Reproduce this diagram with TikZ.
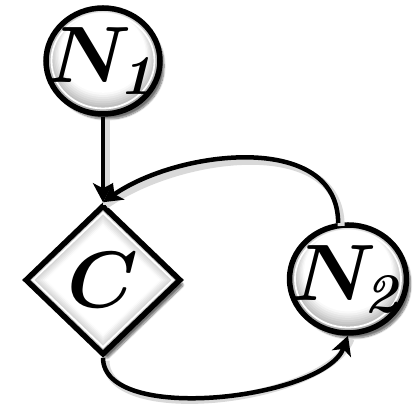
\RequirePackage{fix-cm}
\documentclass[tikz,border=0pt]{standalone}
\usepackage{amsmath}
\usetikzlibrary{shapes.geometric,arrows.meta,shadows.blur}
\begin{document}
\begin{tikzpicture}[x=1pt,y=1pt,
  bignum/.style={font=\fontsize{80}{90}\selectfont\boldmath},
  myshadow/.style={blur shadow={shadow xshift=4pt, shadow yshift=-5pt, shadow blur steps=10, shadow blur extra rounding=2pt, shadow opacity=55}},
  ballnode/.style n args={2}{ellipse, draw=black, line width=5.5pt, fill=white, inner sep=0pt, myshadow,
    minimum width={2*#1}, minimum height={2*#2},
    path picture={
      \foreach \s in {1.00,0.975,...,0.70} {
        \pgfmathsetmacro\g{max(0,36*(\s-0.76)/0.24)}
        \fill[black!\g] ([yshift={(1-\s)*0.6*#2}]path picture bounding box.center) ellipse ({\s*#1} and {\s*#2});
      }
      \draw[white,line width=1.8pt] (path picture bounding box.center) ellipse ({#1-5.5} and {#2-5.5});}},
  dianode/.style n args={2}{diamond, draw=black, line width=5.5pt, fill=white, inner sep=0pt, myshadow,
    minimum width={2*#1}, minimum height={2*#2},
    path picture={
      \foreach \s in {1.00,0.975,...,0.70} {
        \pgfmathsetmacro\g{max(0,30*(\s-0.74)/0.26)}
        \fill[black!\g] (path picture bounding box.center) ++(0,{\s*#2}) -- ++({-\s*#1},{-\s*#2}) -- ++({\s*#1},{-\s*#2}) -- ++({\s*#1},{\s*#2}) -- cycle;
      }
      \draw[white,line width=1.8pt] (path picture bounding box.center) ++(0,{#2-8}) -- ++({-(#1-8)},{-(#2-8)}) -- ++({#1-8},{-(#2-8)}) -- ++({#1-8},{#2-8}) -- cycle;}},
  conn/.style={line width=4.5pt, -{Stealth[length=19pt,width=20pt,inset=5pt]},
    preaction={draw=black!15, line width=7pt, transform canvas={xshift=3pt,yshift=-3pt}, -}}
]
\useasboundingbox (0,0) rectangle (417,411);
\node[ballnode={57}{53},
  label={[bignum]center:$N_{\kern-3pt\mathit{1}}$}] (n1) at (103,350) {};
\node[dianode={78}{75}, label={[bignum]center:$C$}] (c) at (103,131) {};
\node[ballnode={58.5}{54},
  label={[bignum]center:$N_{\kern-3pt\mathit{2}}$}] (n2) at (348,132) {};
\draw[conn] (n1.south) -- (c.north);
\draw[conn] (n2.100) to[out=90,in=35] (c.north);
\draw[conn] (c.south) to[out=-90,in=-110,looseness=0.7] (n2.south);
\end{tikzpicture}
\end{document}
